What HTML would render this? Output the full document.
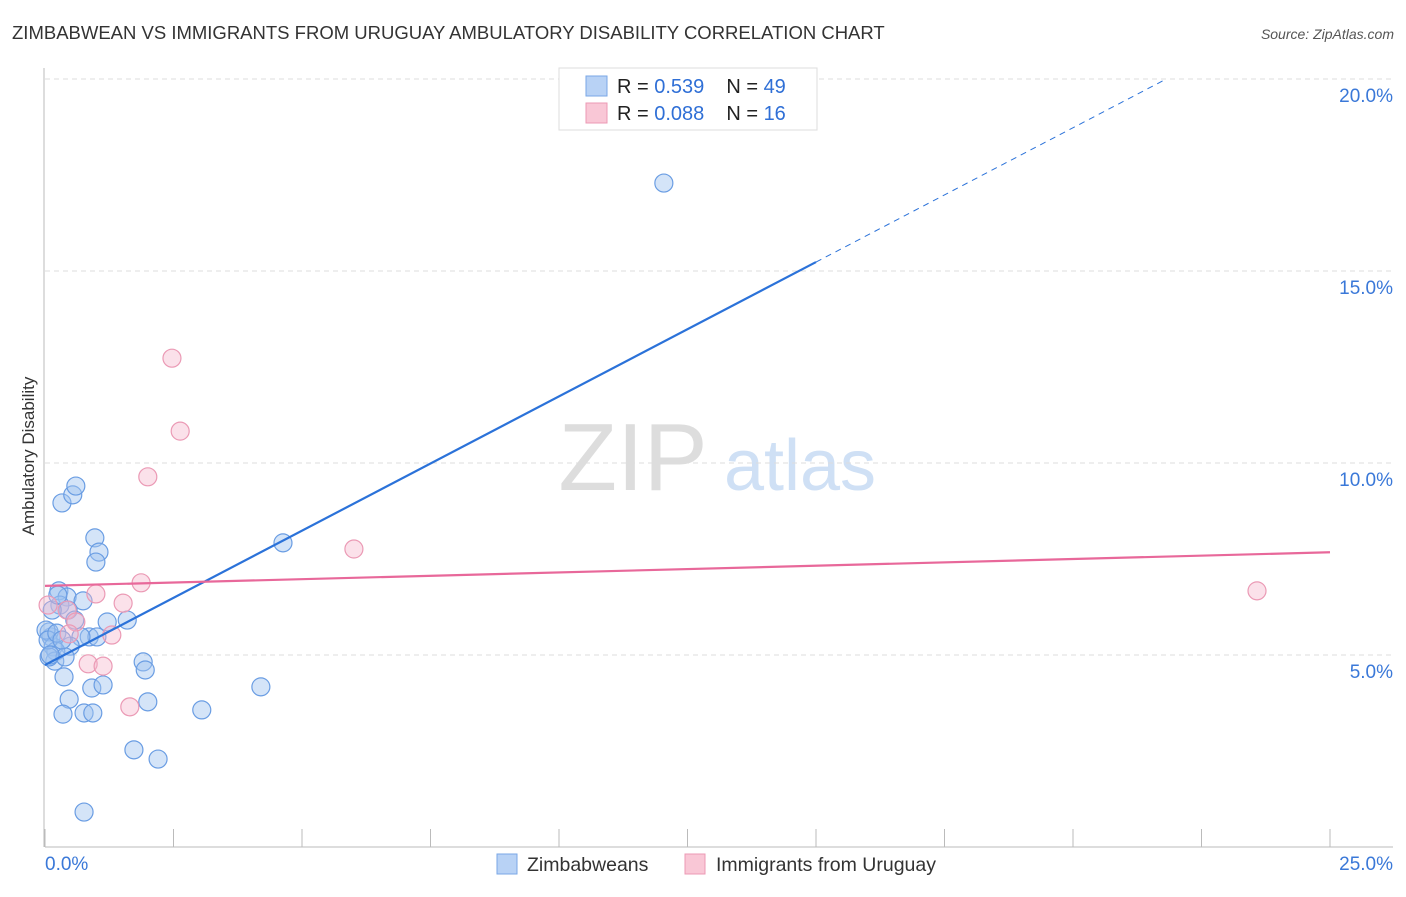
<!DOCTYPE html>
<html><head><meta charset="utf-8"><style>
body{margin:0;background:#fff;font-family:"Liberation Sans",sans-serif;}
svg text{font-family:"Liberation Sans",sans-serif;}
</style></head><body>
<svg id="chart" width="1406" height="892">
<text x="12" y="39" font-size="18.5" fill="#333">ZIMBABWEAN VS IMMIGRANTS FROM URUGUAY AMBULATORY DISABILITY CORRELATION CHART</text>
<text x="1394" y="39" font-size="14" fill="#555" font-style="italic" text-anchor="end">Source: ZipAtlas.com</text>
<text transform="translate(34,456) rotate(-90)" font-size="17" fill="#333" text-anchor="middle">Ambulatory Disability</text>
<g>
<text x="633" y="490" font-size="96" font-family="Liberation Serif" fill="#ddd" text-anchor="middle">ZIP</text>
<text x="800" y="490" font-size="72" fill="#cfe0f5" text-anchor="middle">atlas</text>
</g>
<g id="grid"></g>
<g id="axes"></g>
<g id="marks"></g>
<g>
<rect x="559" y="68" width="258" height="62" fill="#fff" stroke="#ddd"/>
<rect x="586" y="76" width="21" height="20" fill="#b8d2f5" stroke="#7aa7e6"/>
<rect x="586" y="103" width="21" height="20" fill="#f9c7d6" stroke="#ec9ab4"/>
<text x="617" y="93" font-size="20" fill="#222">R = <tspan fill="#2f6fd6">0.539</tspan><tspan dx="22">N = </tspan><tspan fill="#2f6fd6">49</tspan></text>
<text x="617" y="120" font-size="20" fill="#222">R = <tspan fill="#2f6fd6">0.088</tspan><tspan dx="22">N = </tspan><tspan fill="#2f6fd6"> 16</tspan></text>
</g>
<g>
<rect x="497" y="854" width="20" height="20" fill="#b8d2f5" stroke="#7aa7e6"/>
<text x="527" y="871" font-size="19.5" fill="#333">Zimbabweans</text>
<rect x="685" y="854" width="20" height="20" fill="#f9c7d6" stroke="#ec9ab4"/>
<text x="716" y="871" font-size="19.5" fill="#333">Immigrants from Uruguay</text>
</g>
</svg>
<script>
const blueX=[.33,.54,.60,.97,1.05,.99,.27,.43,.74,.29,.45,1.21,1.60,.86,1.01,.70,.49,.12,.08,.16,.21,.19,.08,.39,.37,.47,.91,1.13,.35,.76,.93,1.91,1.95,2.00,1.73,2.20,.76,3.05,4.20,4.63,12.04,.02,.06,.14,.23,.33,.58,.25,.10];
const blueY=[8.96,9.17,9.40,8.05,7.68,7.42,6.67,6.51,6.41,6.30,6.17,5.86,5.91,5.47,5.47,5.47,5.23,5.47,5.60,5.21,5.10,4.84,4.95,4.95,4.43,3.85,4.14,4.22,3.46,3.49,3.49,4.82,4.61,3.78,2.53,2.29,0.91,3.57,4.17,7.92,17.29,5.65,5.39,6.17,5.57,5.39,5.91,6.56,5.0];
const pinkX=[2.47,2.63,2.00,6.01,23.58,1.87,.99,1.52,.43,.60,1.30,.47,.84,1.13,1.65,.06];
const pinkY=[12.73,10.83,9.64,7.76,6.67,6.88,6.59,6.35,6.17,5.86,5.52,5.55,4.77,4.71,3.65,6.30];
const blueTrend=[4.74,0.6995];
const pinkTrend=[6.80,0.035];
const yTicks=[5,10,15,20];
const yTickLabels=["5.0%","10.0%","15.0%","20.0%"];
const xTicks=[0,2.5,5,7.5,10,12.5,15,17.5,20,22.5,25];
const xs=v=>45+v*51.4, ys=v=>847-v*38.4;
const NS="http://www.w3.org/2000/svg";
function mk(tag,attrs,parent){const e=document.createElementNS(NS,tag);for(const k in attrs)e.setAttribute(k,attrs[k]);document.getElementById(parent).appendChild(e);return e;}
yTicks.forEach((t,i)=>{
 const g=mk('line',{x1:45,x2:1393,y1:ys(t),y2:ys(t),stroke:'#ddd','stroke-dasharray':'5,4'},'grid');
 
 
 const l=mk('text',{x:1393,y:ys(t)+23,'font-size':19,fill:'#3a78d8','text-anchor':'end'},'axes');
 l.textContent=yTickLabels[i];
 
 
});
const topGrid=mk('line',{x1:45,x2:1393,y1:79,y2:79,stroke:'#ddd','stroke-dasharray':'5,4'},'grid');


const ya=mk('line',{x1:44,x2:44,y1:68,y2:847,stroke:'#bbb'},'axes');


const xa=mk('line',{x1:45,x2:1393,y1:847,y2:847,stroke:'#bbb'},'axes');


xTicks.forEach(t=>{
 const tk=mk('line',{x1:xs(t),x2:xs(t),y1:829,y2:847,stroke:'#bbb'},'axes');
 
 
});
[[0,'start',"0.0%"],[25,'end',"25.0%"]].forEach(a=>{
 const l=mk('text',{x:a[0]===0?45:1393,y:870,'font-size':19,fill:'#3a78d8','text-anchor':a[1]},'axes');
 l.textContent=a[2];
 
 
});
blueX.forEach((x,i)=>{
 const c=mk('circle',{cx:xs(x),cy:ys(blueY[i]),r:9,fill:'rgba(160,196,240,0.45)',stroke:'#6a9de3','stroke-width':1.2},'marks');
 
 
});
pinkX.forEach((x,i)=>{
 const c=mk('circle',{cx:xs(x),cy:ys(pinkY[i]),r:9,fill:'rgba(246,180,202,0.4)',stroke:'#eb9ab5','stroke-width':1.2},'marks');
 
 
});
const bl=mk('line',{x1:xs(0),y1:ys(blueTrend[0]),x2:xs(15),y2:ys(blueTrend[0]+15*blueTrend[1]),stroke:'#2b72d9','stroke-width':2.2},'marks');


const xEnd=(20-blueTrend[0])/blueTrend[1];
const bd=mk('line',{x1:xs(15),y1:ys(blueTrend[0]+15*blueTrend[1]),x2:xs(xEnd),y2:ys(20),stroke:'#2b72d9','stroke-width':1,'stroke-dasharray':'6,5'},'marks');


const pl=mk('line',{x1:xs(0),y1:ys(pinkTrend[0]),x2:xs(25),y2:ys(pinkTrend[0]+25*pinkTrend[1]),stroke:'#e8689a','stroke-width':2.2},'marks');


</script>
</body></html>
